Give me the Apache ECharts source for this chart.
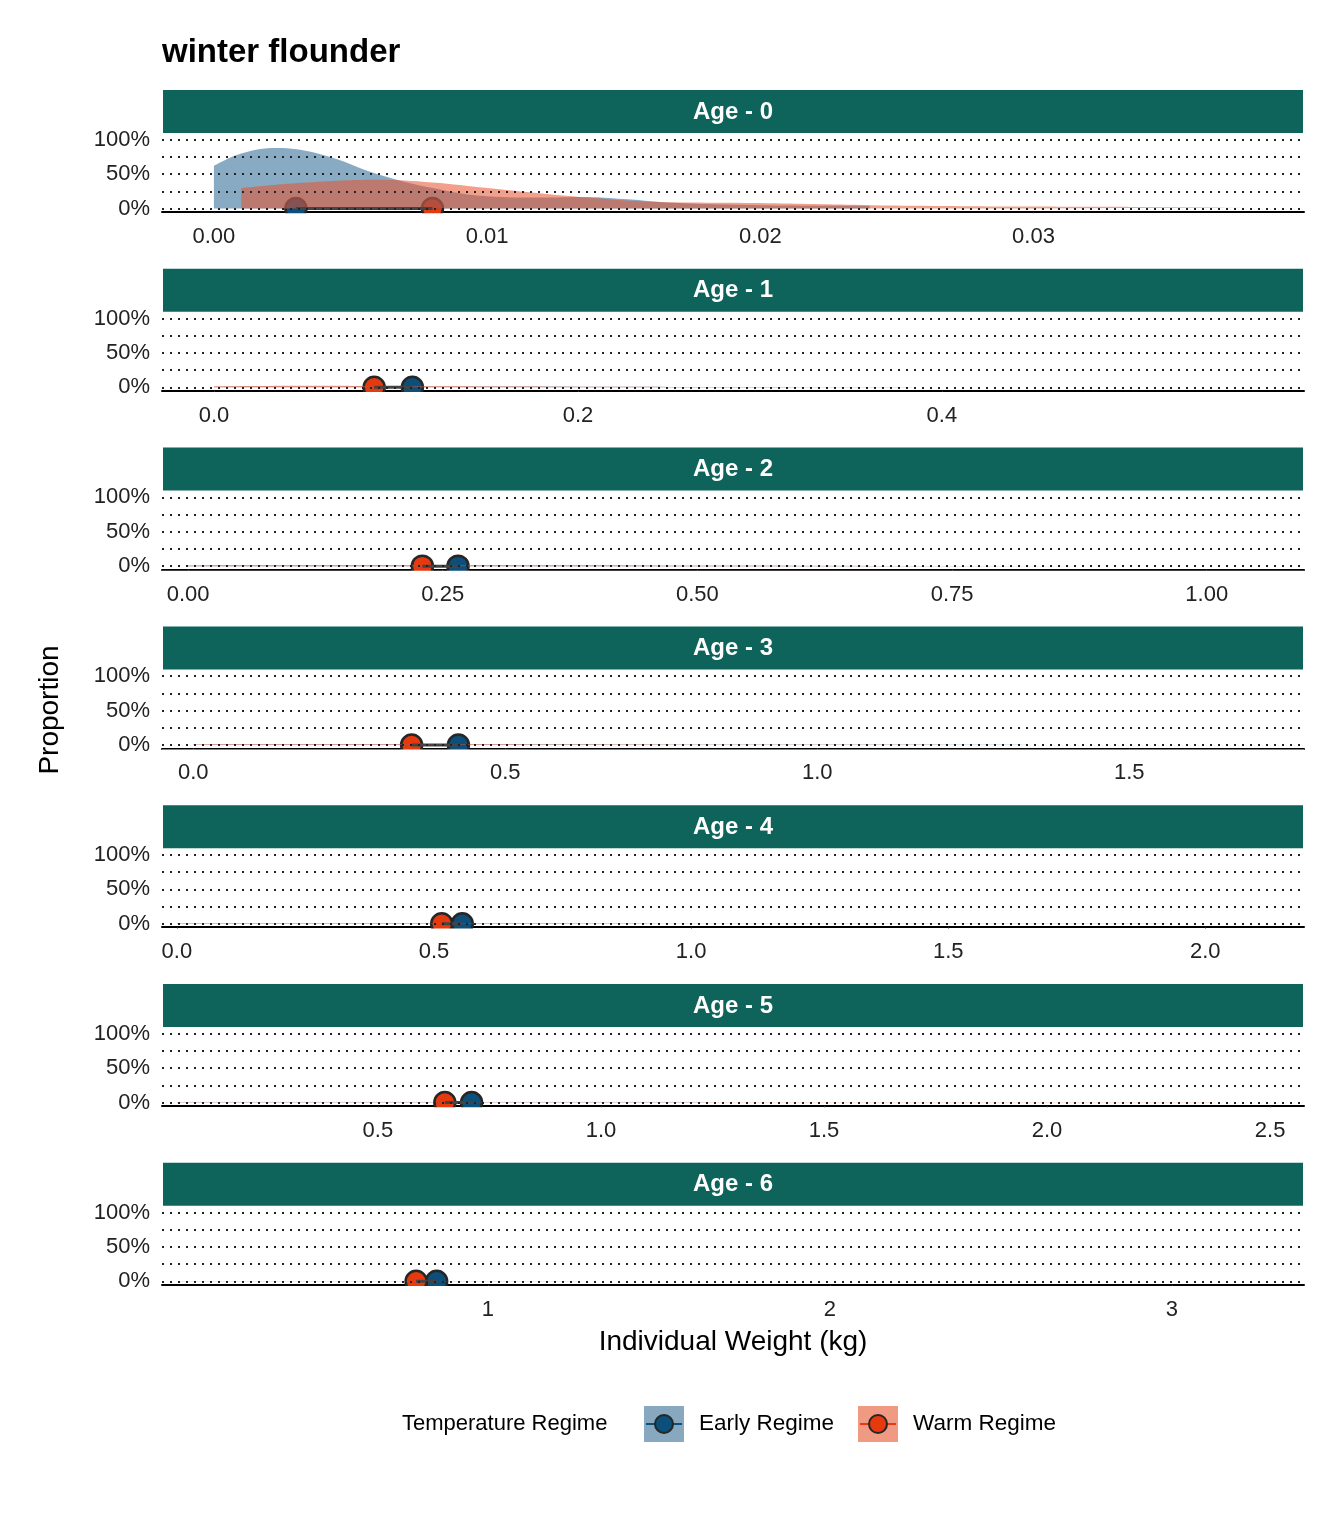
<!DOCTYPE html>
<html>
<head>
<meta charset="utf-8">
<script src="https://cdn.jsdelivr.net/npm/echarts@6/dist/echarts.min.js"></script>
<style>body{margin:0;background:#fff}#main{width:1344px;height:1536px}</style>
</head>
<body>
<div id="main"></div>
<script>
// panel labels
const ages = ['Age - 0', 'Age - 1', 'Age - 2', 'Age - 3', 'Age - 4', 'Age - 5', 'Age - 6'];
// x ranges per panel
const xMins = [-0.0019, -0.0286, -0.0256, -0.05, -0.029, 0.016, 0.047];
const xMaxs = [0.0399, 0.599, 1.0955, 1.78, 2.192, 2.576, 3.386];
const xTicks = [
    [0, 0.01, 0.02, 0.03],
    [0, 0.2, 0.4],
    [0, 0.25, 0.5, 0.75, 1.0],
    [0, 0.5, 1.0, 1.5],
    [0, 0.5, 1.0, 1.5, 2.0],
    [0.5, 1.0, 1.5, 2.0, 2.5],
    [1, 2, 3]
];
const xDigits = [2, 1, 2, 1, 1, 1, 0];
const yTicks = [0, 0.25, 0.5, 0.75, 1];
const yLabels = ['0%', '25%', '50%', '75%', '100%'];

// mean weights
const earlyMean = [0.003, 0.109, 0.265, 0.425, 0.555, 0.71, 0.85];
const warmMean = [0.008, 0.088, 0.23, 0.35, 0.515, 0.65, 0.79];

// density curves [x, proportion]
const earlyDens = [
    [[0, 0.62], [0.001, 0.8], [0.0023, 0.88], [0.004, 0.78], [0.006, 0.5], [0.008, 0.3], [0.010, 0.18], [0.012, 0.16], [0.0135, 0.17], [0.015, 0.14], [0.017, 0.08], [0.020, 0.05], [0.024, 0.04]],
    [[0, 0.01], [0.1, 0.012], [0.2, 0.01], [0.3, 0.006], [0.45, 0.003]],
    [[0, 0.006], [0.3, 0.008], [0.6, 0.004], [0.9, 0.002]],
    [[0, 0.004], [0.4, 0.006], [0.8, 0.003], [1.4, 0.001]],
    [[0, 0.003], [0.55, 0.004], [1.0, 0.002], [1.8, 0.001]],
    [[0.05, 0.003], [0.7, 0.004], [1.3, 0.002], [2.3, 0.001]],
    [[0.1, 0.002], [0.85, 0.003], [1.6, 0.002], [3.0, 0.001]]
];
const warmDens = [
    [[0.001, 0.3], [0.003, 0.37], [0.006, 0.42], [0.008, 0.38], [0.010, 0.3], [0.012, 0.22], [0.014, 0.15], [0.016, 0.1], [0.020, 0.08], [0.024, 0.05], [0.030, 0.03], [0.038, 0.02]],
    [[0, 0.015], [0.05, 0.025], [0.12, 0.015], [0.25, 0.006], [0.5, 0.002]],
    [[0, 0.01], [0.2, 0.012], [0.5, 0.005], [1.0, 0.001]],
    [[0, 0.008], [0.33, 0.01], [0.8, 0.004], [1.7, 0.001]],
    [[0, 0.006], [0.5, 0.007], [1.0, 0.003], [2.1, 0.001]],
    [[0.05, 0.005], [0.65, 0.006], [1.3, 0.003], [2.5, 0.001]],
    [[0.1, 0.004], [0.8, 0.005], [1.6, 0.002], [3.3, 0.001]]
];

const strip0 = 90, step = 178.8;
const grids = [], xAxes = [], yAxes = [], series = [], graphics = [];
const font = '"Liberation Sans", Arial';

ages.forEach((age, i) => {
    const st = strip0 + i * step;
    grids.push({left: 162, width: 1142, top: st + 45, height: 77});
    graphics.push({type: 'rect', shape: {x: 163, y: st, width: 1140, height: 43}, style: {fill: '#0e635a'}});
    graphics.push({type: 'text', x: 733, y: st + 22, style: {text: age, fill: '#fff', font: 'bold 24px ' + font, align: 'center', verticalAlign: 'middle'}});
    // hide the lower part of the mean markers below the panel
    graphics.push({type: 'rect', z: 100, shape: {x: 162, y: st + 45 + 77 + 1.2, width: 1142, height: 8}, style: {fill: '#fff'}});
    xAxes.push({
        type: 'value', gridIndex: i, min: xMins[i], max: xMaxs[i],
        axisLine: {onZero: false, lineStyle: {color: '#000', width: 2}},
        axisTick: {customValues: xTicks[i], length: 6, lineStyle: {color: '#333'}},
        axisLabel: {customValues: xTicks[i], color: '#222', fontSize: 22, margin: 14, hideOverlap: false,
            fontFamily: 'Liberation Sans', formatter: v => v.toFixed(xDigits[i])},
        splitLine: {show: false}
    });
    yAxes.push({
        type: 'value', gridIndex: i, min: -0.05, max: 1.07,
        axisLine: {show: false}, axisTick: {show: false},
        axisLabel: {customValues: yTicks, color: '#222', fontSize: 22, margin: 12, hideOverlap: false,
            showMinLabel: true, showMaxLabel: true,
            fontFamily: 'Liberation Sans', formatter: v => yLabels[yTicks.indexOf(v)]},
        splitLine: {show: false}
    });
    series.push({
        type: 'line', xAxisIndex: i, yAxisIndex: i, data: [], silent: true,
        markLine: {symbol: 'none', silent: true, label: {show: false},
            lineStyle: {type: [2, 6], color: '#222', width: 2},
            data: yTicks.map(v => ({yAxis: v}))}
    });
    series.push({
        type: 'line', xAxisIndex: i, yAxisIndex: i, data: earlyDens[i], smooth: 0.4,
        showSymbol: false, lineStyle: {width: 0}, silent: true,
        areaStyle: {origin: 0, color: '#1b5d8c', opacity: 0.52}
    });
    series.push({
        type: 'line', xAxisIndex: i, yAxisIndex: i, data: warmDens[i], smooth: 0.4,
        showSymbol: false, lineStyle: {width: 0}, silent: true,
        areaStyle: {origin: 0, color: '#e8512b', opacity: 0.55}
    });
    series.push({
        type: 'line', xAxisIndex: i, yAxisIndex: i, data: [[warmMean[i], 0], [earlyMean[i], 0]],
        showSymbol: false, lineStyle: {color: '#444', width: 3}, silent: true
    });
    series.push({
        type: 'scatter', xAxisIndex: i, yAxisIndex: i, symbolSize: 21,
        data: [[earlyMean[i], 0]], itemStyle: {color: '#0b4f7a', borderColor: '#262626', borderWidth: 2.5, opacity: 1}
    });
    series.push({
        type: 'scatter', xAxisIndex: i, yAxisIndex: i, symbolSize: 21,
        data: [[warmMean[i], 0]], itemStyle: {color: '#e63a0e', borderColor: '#262626', borderWidth: 2.5, opacity: 1}
    });
});

// titles and legend
graphics.push({type: 'text', x: 162, y: 53, style: {text: 'winter flounder', font: 'bold 33px ' + font, fill: '#000', verticalAlign: 'middle'}});
graphics.push({type: 'text', x: 733, y: 1342, style: {text: 'Individual Weight (kg)', font: '28px ' + font, fill: '#000', align: 'center', verticalAlign: 'middle'}});
graphics.push({type: 'text', x: 50, y: 710, rotation: Math.PI / 2, style: {text: 'Proportion', font: '28px ' + font, fill: '#000', align: 'center', verticalAlign: 'middle'}});
graphics.push({type: 'text', x: 402, y: 1424, style: {text: 'Temperature Regime', font: '22px ' + font, fill: '#000', verticalAlign: 'middle'}});
const keys = [
    {x: 644, fill: '#88a8c0', pt: '#0b4f7a', line: '#0b4f7a', label: 'Early Regime', lx: 699},
    {x: 858, fill: '#f09a83', pt: '#e63a0e', line: '#e63a0e', label: 'Warm Regime', lx: 913}
];
keys.forEach(k => {
    graphics.push({type: 'rect', shape: {x: k.x, y: 1406, width: 40, height: 36}, style: {fill: k.fill}});
    graphics.push({type: 'line', shape: {x1: k.x + 2, y1: 1424, x2: k.x + 38, y2: 1424}, style: {stroke: k.line, lineWidth: 2}});
    graphics.push({type: 'circle', shape: {cx: k.x + 20, cy: 1424, r: 9}, style: {fill: k.pt, stroke: '#262626', lineWidth: 2}});
    graphics.push({type: 'text', x: k.lx, y: 1424, style: {text: k.label, font: '22.5px ' + font, fill: '#000', verticalAlign: 'middle'}});
});

const chart = echarts.init(document.getElementById('main'));
chart.setOption({
    animation: false,
    backgroundColor: '#fff',
    grid: grids, xAxis: xAxes, yAxis: yAxes, series: series, graphic: graphics
});
</script>
</body>
</html>
